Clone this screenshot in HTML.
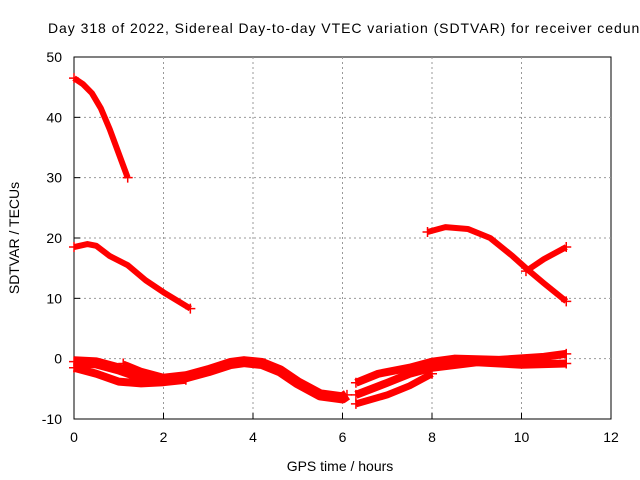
<!DOCTYPE html>
<html><head><meta charset="utf-8"><style>
body{margin:0;background:#fff;}
svg{display:block;font-family:"Liberation Sans",sans-serif;}
</style></head><body>
<svg id="chart" width="640" height="480">
<text x="48" y="33" font-size="14" letter-spacing="0.95">Day 318 of 2022, Sidereal Day-to-day VTEC variation (SDTVAR) for receiver ceduna</text>
<rect x="74" y="57" width="537" height="362" fill="none" stroke="#000"/>
<g id="grid"></g>
<g id="ticks"></g>
<g id="series"></g>
<text x="340" y="471" font-size="14" text-anchor="middle">GPS time / hours</text>
<text transform="translate(19,238) rotate(-90)" font-size="14" text-anchor="middle">SDTVAR / TECUs</text>
</svg>
<script>
const xTicks=[0,2,4,6,8,10,12];
const yTicks=[-10,0,10,20,30,40,50];
const sA=[[0,46.5],[0.2,45.5],[0.4,44],[0.6,41.5],[0.8,38],[1.0,34],[1.2,30]];
const sB=[[0,18.5],[0.3,19],[0.5,18.7],[0.8,17],[1.2,15.5],[1.6,13],[2,11],[2.6,8.3]];
const sC=[[7.9,21],[8.3,21.8],[8.8,21.5],[9.3,20],[9.8,17],[10.1,15],[10.5,12.5],[11,9.5]];
const sD=[[10.1,14.5],[10.5,16.5],[11,18.5]];
const sE=[[0,-0.5],[0.5,-0.7],[1,-1.7],[1.5,-3],[2,-3.4],[2.5,-3],[3,-2],[3.5,-0.8],[3.8,-0.5],[4.2,-0.8],[4.6,-2],[5,-4],[5.5,-6],[6,-6.5],[6.1,-6]];
const sF=[[0,-1.5],[0.5,-2.5],[1,-3.8],[1.5,-4.1],[2,-3.9],[2.5,-3.5]];
const sG=[[1.1,-0.8],[1.5,-2],[2,-3],[2.4,-3.3]];
const sH=[[6.3,-4],[6.8,-2.5],[7.5,-1.5],[8,-0.5],[8.5,0],[9.5,-0.2],[10.5,0.3],[11,0.8]];
const sI=[[6.3,-6],[7,-4],[7.5,-2.5],[8,-1.5],[9,-0.6],[10,-1],[11,-0.8]];
const sJ=[[6.3,-7.5],[7,-6],[7.5,-4.5],[8,-2.5]];
const allSeries=[[sA,6],[sB,6],[sC,6],[sD,6],[sE,11],[sF,8],[sG,6],[sH,8],[sI,8],[sJ,7]];
const X=h=>74+h*537/12, Y=v=>419-(v+10)*362/60;
const NS='http://www.w3.org/2000/svg';
const grid=document.getElementById('grid'), ticks=document.getElementById('ticks'), ser=document.getElementById('series');
function mk(tag,attrs,parent){const e=document.createElementNS(NS,tag);for(const k in attrs)e.setAttribute(k,attrs[k]);parent.appendChild(e);return e;}
xTicks.forEach(t=>{
 if(t>0&&t<12){const g=mk('line',{x1:X(t),x2:X(t),y1:57,y2:419,stroke:'#999','stroke-dasharray':'2,3'},grid);
 }
 const l=mk('line',{x1:X(t),x2:X(t),y1:419,y2:413,stroke:'#000'},ticks);
 
 const tx=mk('text',{x:X(t),y:442,'font-size':14,'text-anchor':'middle'},ticks);tx.textContent=t;
 
});
yTicks.forEach(t=>{
 if(t>-10&&t<50){const g=mk('line',{x1:74,x2:611,y1:Y(t),y2:Y(t),stroke:'#999','stroke-dasharray':'2,3'},grid);
 }
 const l=mk('line',{x1:74,x2:80,y1:Y(t),y2:Y(t),stroke:'#000'},ticks);
 
 const tx=mk('text',{x:62,y:Y(t)+5,'font-size':14,'text-anchor':'end'},ticks);tx.textContent=t;
 
});
allSeries.forEach(([s,w])=>{
 const p=mk('polyline',{points:s.map(d=>X(d[0])+','+Y(d[1])).join(' '),fill:'none',stroke:'#f00','stroke-width':w,'stroke-linejoin':'round'},ser);
 
 [s[0],s[s.length-1]].forEach(d=>{
  const m=mk('path',{d:`M${X(d[0])-5},${Y(d[1])}h10M${X(d[0])},${Y(d[1])-5}v10`,stroke:'#f00','stroke-width':1.5},ser);
  
 });
});
</script>
</body></html>
